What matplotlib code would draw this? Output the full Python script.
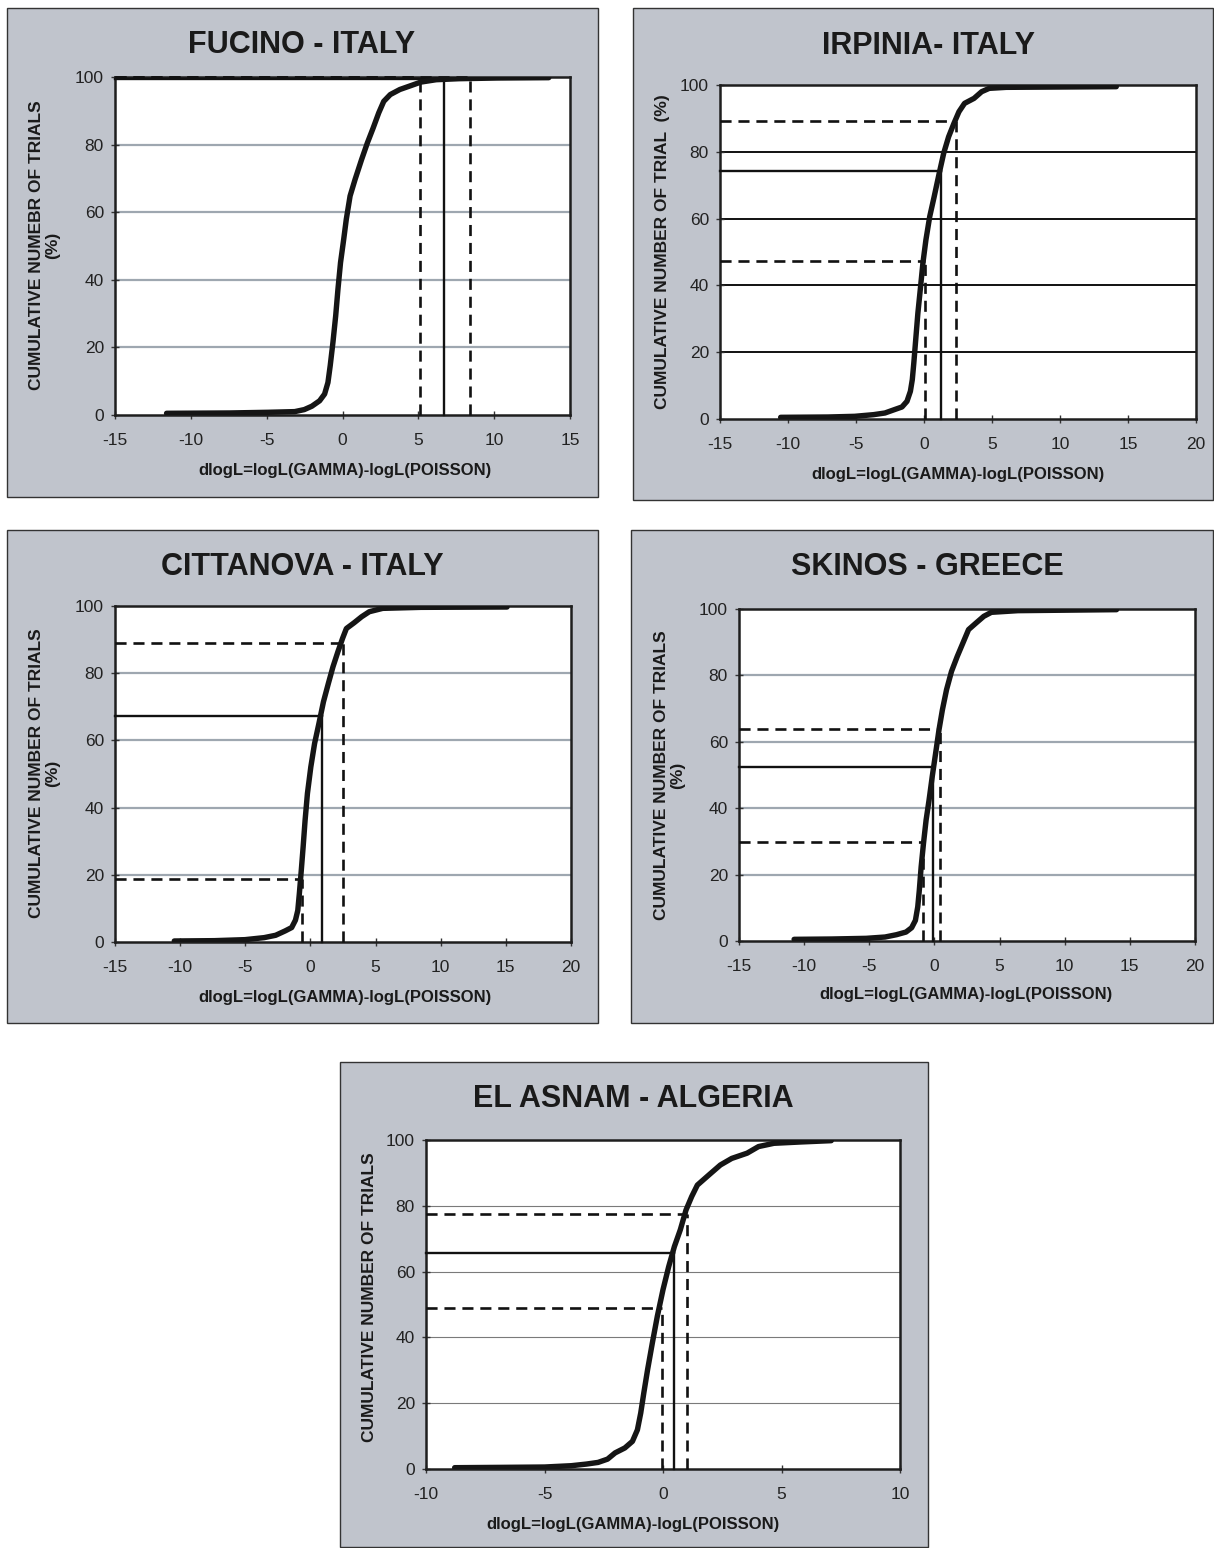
import matplotlib
matplotlib.use("Agg")
import matplotlib.pyplot as plt
from matplotlib.patches import Rectangle

plt.rcParams['font.family'] = ['Liberation Sans', 'DejaVu Sans']
plt.rcParams['axes.unicode_minus'] = False

W, H = 1214, 1548
BG = '#c0c4cc'

# ---------------- DATA ----------------
titles = ["FUCINO - ITALY", "IRPINIA- ITALY", "CITTANOVA - ITALY",
          "SKINOS - GREECE", "EL ASNAM - ALGERIA"]
ylabels = ["CUMULATIVE NUMEBR OF TRIALS\n(%)", "CUMULATIVE NUMBER OF TRIAL  (%)",
           "CUMULATIVE NUMBER OF TRIALS\n(%)", "CUMULATIVE NUMBER OF TRIALS\n(%)",
           "CUMULATIVE NUMBER OF TRIALS"]
xlabel = "dlogL=logL(GAMMA)-logL(POISSON)"
xlims = [(-15, 15), (-15, 20), (-15, 20), (-15, 20), (-10, 10)]
yticks = [0, 20, 40, 60, 80, 100]

fucino_x = [-11.6, -7.44, -4.92, -3.15, -2.52, -2.02, -1.51, -1.18, -0.96, -0.81,
            -0.63, -0.45, -0.30, -0.13, 0.08, 0.25, 0.5, 0.83, 1.26, 1.64,
            2.02, 2.39, 2.72, 3.15, 3.78, 4.54, 5.17, 6.18, 7.69, 10.2, 13.6]
fucino_y = [0.5, 0.6, 0.8, 1.0, 1.6, 2.6, 4.2, 6.2, 9.6, 14.6,
            21.5, 29.3, 37.2, 45.1, 52, 57.9, 64.8, 69.7, 75.6, 80.5,
            84.9, 89.4, 92.8, 94.8, 96.3, 97.5, 98.5, 99.2, 99.5, 99.7, 99.8]

irpinia_x = [-10.54, -7.06, -5.1, -3.71, -2.87, -2.18, -1.62, -1.25, -1.0, -0.86,
             -0.75, -0.61, -0.45, -0.25, -0.08, 0.14, 0.42, 0.75, 1.12, 1.45,
             1.81, 2.2, 2.57, 2.98, 3.68, 4.24, 4.8, 6.05, 14.14]
irpinia_y = [0.5, 0.6, 0.8, 1.3, 1.8, 2.8, 3.6, 5.3, 8.3, 11.8,
             16.7, 23.7, 31.7, 39.7, 46.7, 53.6, 60.6, 66.6, 73.6, 79.6,
             84.5, 88.5, 92, 94.5, 96, 98, 99, 99.3, 99.5]

cittanova_x = [-10.45, -7.37, -5.02, -3.55, -2.67, -1.94, -1.44, -1.15, -0.97, -0.85,
               -0.7, -0.56, -0.41, -0.23, 0.03, 0.32, 0.65, 1.0, 1.38, 1.73,
               2.11, 2.47, 2.76, 3.35, 3.93, 4.52, 5.55, 8.49, 15.09]
cittanova_y = [0.3, 0.4, 0.7, 1.3, 2.0, 3.3, 4.3, 6.5, 9.4, 14.4,
               21.4, 28.3, 36.2, 44.2, 52.1, 59.1, 65, 71.5, 77, 81.9,
               86.4, 90.4, 93.3, 95, 96.8, 98.3, 99.3, 99.6, 99.7]

skinos_x = [-10.77, -7.86, -5.24, -3.79, -2.91, -2.18, -1.75, -1.46, -1.28, -1.16,
            -1.02, -0.84, -0.64, -0.41, -0.17, 0.09, 0.35, 0.61, 0.93, 1.31,
            1.75, 2.18, 2.62, 3.2, 3.79, 4.37, 6.41, 13.98]
skinos_y = [0.5, 0.6, 0.8, 1.2, 1.9, 2.7, 4.0, 6.2, 10.3, 15.3,
            22.3, 29.4, 36.4, 42.5, 49.5, 56.5, 63.6, 69.6, 75.7, 81.2,
            85.7, 89.7, 93.8, 95.8, 97.8, 99, 99.5, 99.8]

elasnam_x = [-8.79, -6.77, -5.0, -3.87, -3.23, -2.74, -2.34, -2.02, -1.61, -1.29,
             -1.08, -0.94, -0.81, -0.65, -0.45, -0.24, 0.0, 0.24, 0.48, 0.73,
             0.97, 1.21, 1.45, 1.94, 2.42, 2.9, 3.55, 4.03, 4.68, 5.81, 7.1]
elasnam_y = [0.4, 0.5, 0.6, 1.0, 1.5, 2.0, 3.0, 4.9, 6.4, 8.4,
             11.9, 17, 23.1, 30.2, 38.3, 46.4, 54.5, 61.5, 67.6, 72.7,
             78.7, 82.8, 86.3, 89.4, 92.4, 94.4, 96, 98, 99, 99.4, 99.8]

# reference markers: (x value, y value, style)
fucino_refs = [(5.12, 100, 'dashed'), (6.68, 99.4, 'solid'), (8.39, 100, 'dashed')]
irpinia_refs = [(0.05, 47.4, 'dashed'), (1.25, 74.3, 'solid'), (2.37, 89.2, 'dashed')]
cittanova_refs = [(-0.62, 18.7, 'dashed'), (0.85, 67.2, 'solid'), (2.47, 88.9, 'dashed')]
skinos_refs = [(-0.87, 29.9, 'dashed'), (-0.09, 52.3, 'solid'), (0.44, 63.8, 'dashed')]
elasnam_refs = [(-0.05, 48.9, 'dashed'), (0.48, 65.8, 'solid'), (1.0, 77.4, 'dashed')]

curves_x = [fucino_x, irpinia_x, cittanova_x, skinos_x, elasnam_x]
curves_y = [fucino_y, irpinia_y, cittanova_y, skinos_y, elasnam_y]
refs = [fucino_refs, irpinia_refs, cittanova_refs, skinos_refs, elasnam_refs]

# ---------------- LAYOUT (pixels) ----------------
boxes = [(7, 8, 598, 497), (633, 8, 1213, 500), (7, 530, 598, 1023),
         (631, 530, 1213, 1023), (340, 1062, 928, 1547)]
plots = [(115, 77, 570, 415), (720, 85, 1196, 419), (115, 606, 571, 942),
         (739, 609, 1195, 941), (426, 1140, 900, 1469)]
title_pos = [(302, 45), (928, 46), (302, 567), (927, 567), (633, 1099)]
ylab_pos = [(45, 245), (662, 252), (45, 773), (670, 775), (369, 1297)]
xlab_pos = [(345, 470), (958, 475), (345, 998), (966, 995), (633, 1525)]
grid_style = [dict(color='#9ea7b0', lw=1.6), dict(color='#111111', lw=1.4),
              dict(color='#9ea7b0', lw=1.6), dict(color='#9ea7b0', lw=1.6),
              dict(color='#7a7a7a', lw=0.8)]

fig = plt.figure(figsize=(W / 100, H / 100), dpi=100)
fig.patch.set_facecolor('white')


def fx(px):
    return px / W


def fy(py):
    return 1 - py / H


for i in range(5):
    bx0, by0, bx1, by1 = boxes[i]
    fig.patches.append(Rectangle((fx(bx0), fy(by1)), fx(bx1 - bx0), (by1 - by0) / H,
                                 transform=fig.transFigure, facecolor=BG,
                                 edgecolor='#333333', lw=1.0, zorder=-5))
    l, t, r, b = plots[i]
    ax = fig.add_axes([fx(l), fy(b), fx(r - l), (b - t) / H])
    ax.set_zorder(2)
    ax.set_facecolor('white')
    x0, x1 = xlims[i]
    ax.set_xlim(x0, x1)
    ax.set_ylim(0, 100)
    ax.set_xticks(list(range(x0, x1 + 1, 5)))
    ax.set_yticks(yticks)
    for s in ax.spines.values():
        s.set_linewidth(1.8)
        s.set_color('#1e1e1e')
    ax.tick_params(direction='inout', length=6, width=1.0, color='#333333',
                   labelsize=12.5, labelcolor='#222222')
    ax.tick_params(axis='x', pad=10)
    ax.tick_params(axis='y', pad=5)
    for g in [20, 40, 60, 80]:
        ax.axhline(g, zorder=1, **grid_style[i])
    # reference lines
    for xv, yv, st in refs[i]:
        if st == 'dashed':
            kw = dict(color='#111111', lw=1.9, linestyle=(0, (4.2, 2.6)))
        else:
            kw = dict(color='#111111', lw=1.7, linestyle='-')
        ax.plot([xv, xv], [0, yv], zorder=3, clip_on=False, **kw)
        ax.plot([x0, xv], [yv, yv], zorder=3, clip_on=False, **kw)
    ax.plot(curves_x[i], curves_y[i], color='#151515', lw=3.9, zorder=4,
            solid_capstyle='round', solid_joinstyle='round')
    fig.text(fx(title_pos[i][0]), fy(title_pos[i][1]), titles[i], ha='center',
             va='center', fontsize=22, fontweight='bold', color='#1a1a1a')
    fig.text(fx(ylab_pos[i][0]), fy(ylab_pos[i][1]), ylabels[i], ha='center',
             va='center', rotation=90, fontsize=12.5, fontweight='bold',
             color='#1a1a1a', linespacing=1.1)
    fig.text(fx(xlab_pos[i][0]), fy(xlab_pos[i][1]), xlabel, ha='center',
             va='center', fontsize=12, fontweight='bold', color='#1a1a1a')

fig.savefig('out.png', dpi=100, facecolor='white')
